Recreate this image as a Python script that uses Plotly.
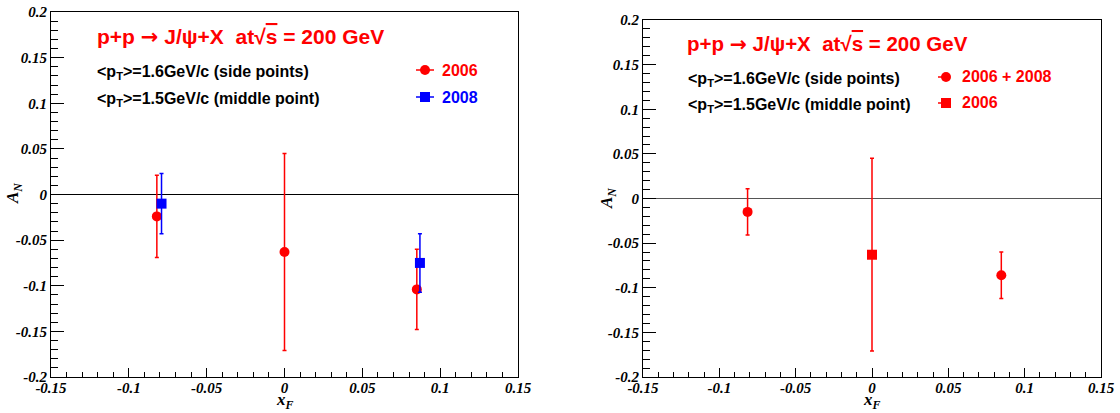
import plotly.graph_objects as go

W, H = 1120, 413

# ---------------- data ----------------
# left panel
left_2006_x = [-0.082, 0.0, 0.085]
left_2006_y = [-0.024, -0.063, -0.104]
left_2006_err = [0.045, 0.108, 0.044]

left_2008_x = [-0.079, 0.087]
left_2008_y = [-0.010, -0.075]
left_2008_err = [0.033, 0.032]

# right panel
right_comb_x = [-0.0815, 0.0847]
right_comb_y = [-0.015, -0.086]
right_comb_err = [0.026, 0.026]

right_mid_x = [0.0]
right_mid_y = [-0.063]
right_mid_err = [0.108]

x_tickvals = [-0.15, -0.1, -0.05, 0, 0.05, 0.1, 0.15]
x_ticktext = ["-0.15", "-0.1", "-0.05", "0", "0.05", "0.1", "0.15"]
y_tickvals = [-0.2, -0.15, -0.1, -0.05, 0, 0.05, 0.1, 0.15, 0.2]
y_ticktext = ["-0.2", "-0.15", "-0.1", "-0.05", "0", "0.05", "0.1", "0.15", "0.2"]

RED = "#ff0000"
BLUE = "#0000ff"


def px(x):
    return x / W


def py(y):
    return 1 - y / H


fig = go.Figure()


def add_pts(x, y, err, color, symbol, xa, ya):
    fig.add_trace(go.Scatter(
        x=x, y=y, mode="markers", xaxis=xa, yaxis=ya,
        marker=dict(color=color, size=10, symbol=symbol, line=dict(width=0)),
        error_y=dict(type="data", array=err, visible=True, color=color,
                     thickness=1.5, width=2),
        showlegend=False,
    ))


add_pts(left_2006_x, left_2006_y, left_2006_err, RED, "circle", "x", "y")
add_pts(left_2008_x, left_2008_y, left_2008_err, BLUE, "square", "x", "y")
add_pts(right_comb_x, right_comb_y, right_comb_err, RED, "circle", "x2", "y2")
add_pts(right_mid_x, right_mid_y, right_mid_err, RED, "square", "x2", "y2")

SERIF = "Liberation Serif, Times New Roman, serif"
tickfont = dict(family=SERIF, size=15, color="black",
                weight="bold", style="italic")


def xaxis_cfg(domain, anchor):
    return dict(domain=domain, anchor=anchor, range=[-0.15, 0.15],
                automargin=False, ticklabelstandoff=-3,
                tickvals=x_tickvals, ticktext=x_ticktext, tickfont=tickfont,
                ticks="inside", ticklen=9, tickcolor="black", tickwidth=1,
                minor=dict(dtick=0.01, tick0=0, ticks="inside", ticklen=5,
                           tickcolor="black", tickwidth=1),
                showline=True, linecolor="black", linewidth=1, mirror=True,
                showgrid=False, zeroline=False)


def yaxis_cfg(domain, anchor, zcolor):
    return dict(domain=domain, anchor=anchor, range=[-0.2, 0.2],
                automargin=False,
                tickvals=y_tickvals, ticktext=y_ticktext, tickfont=tickfont,
                ticks="inside", ticklen=13, tickcolor="black", tickwidth=1,
                minor=dict(dtick=0.01, tick0=0, ticks="inside", ticklen=7,
                           tickcolor="black", tickwidth=1),
                showline=True, linecolor="black", linewidth=1, mirror=True,
                showgrid=False, zeroline=True, zerolinecolor=zcolor,
                zerolinewidth=1)


fig.update_layout(
    width=W, height=H,
    margin=dict(l=0, r=0, t=0, b=0, pad=0),
    paper_bgcolor="white", plot_bgcolor="white",
    xaxis=xaxis_cfg([px(51), px(518)], "y"),
    yaxis=yaxis_cfg([py(377), py(12)], "x", "black"),
    xaxis2=xaxis_cfg([px(643), px(1101)], "y2"),
    yaxis2=yaxis_cfg([py(377), py(20)], "x2", "#555555"),
    showlegend=False,
)

ann = []
title_font_l = dict(family="Liberation Sans", size=21, color=RED, weight="bold")
title_font_r = dict(family="Liberation Sans", size=20.5, color=RED, weight="bold")
sub_font = dict(family="Liberation Sans", size=16, color="black", weight="bold")
leg_font = dict(family="Liberation Sans", size=16, weight="bold")
title_txt = ("p+p <span style='font-family:DejaVu Sans'>\u2192</span> "
             "J/\u03c8+X\u00a0\u00a0at\u221a"
             "<span style='text-decoration:overline'>s</span> = 200 GeV")
sub1 = "&lt;p<sub>T</sub>&gt;=1.6GeV/c (side points)"
sub2 = "&lt;p<sub>T</sub>&gt;=1.5GeV/c (middle point)"


def text(x, y, t, font, anchor="left", angle=0):
    ann.append(dict(xref="paper", yref="paper", x=px(x), y=py(y), text=t,
                    showarrow=False, xanchor=anchor, yanchor="middle",
                    font=font, textangle=angle, borderpad=0))


# left panel texts
text(240, 37, title_txt, title_font_l, anchor="center")
text(96, 72, sub1, sub_font)
text(96, 99, sub2, sub_font)
text(441, 70, "2006", dict(leg_font, color=RED))
text(441, 97, "2008", dict(leg_font, color=BLUE))
# right panel texts
text(827, 44, title_txt, title_font_r, anchor="center")
text(687, 79, sub1, sub_font)
text(687, 105, sub2, sub_font)
text(961, 77, "2006 + 2008", dict(leg_font, color=RED))
text(961, 103, "2006", dict(leg_font, color=RED))

axtitle_font = dict(family=SERIF, size=17, color="black",
                    weight="bold", style="italic")
text(285, 401, "x<sub>F</sub>", axtitle_font, anchor="center")
text(872, 401, "x<sub>F</sub>", axtitle_font, anchor="center")
text(14, 194, "A<sub>N</sub>", axtitle_font, anchor="center", angle=-90)
text(608, 199, "A<sub>N</sub>", axtitle_font, anchor="center", angle=-90)

fig.update_layout(annotations=ann)

# legend symbols (decorations)
shapes = []


def leg_symbol(cx, cy, color, kind, lx0, lx1):
    shapes.append(dict(type="line", xref="paper", yref="paper",
                       x0=px(cx + lx0), x1=px(cx + lx1), y0=py(cy), y1=py(cy),
                       line=dict(color=color, width=1.5)))
    shapes.append(dict(type=kind, xref="paper", yref="paper",
                       xsizemode="pixel", ysizemode="pixel",
                       xanchor=px(cx), yanchor=py(cy),
                       x0=-5, x1=5, y0=-5, y1=5,
                       fillcolor=color, line=dict(color=color, width=0)))


leg_symbol(425, 70, RED, "circle", -9, 9)
leg_symbol(425, 97, BLUE, "rect", -9, 9)
leg_symbol(946, 77, RED, "circle", -8, 4)
leg_symbol(946, 103, RED, "rect", -8, 4)
fig.update_layout(shapes=shapes)

fig.write_html(
    "out.html",
    config={"displayModeBar": False},
    post_script="document.body.style.margin='0';document.body.style.padding='0';",
)
